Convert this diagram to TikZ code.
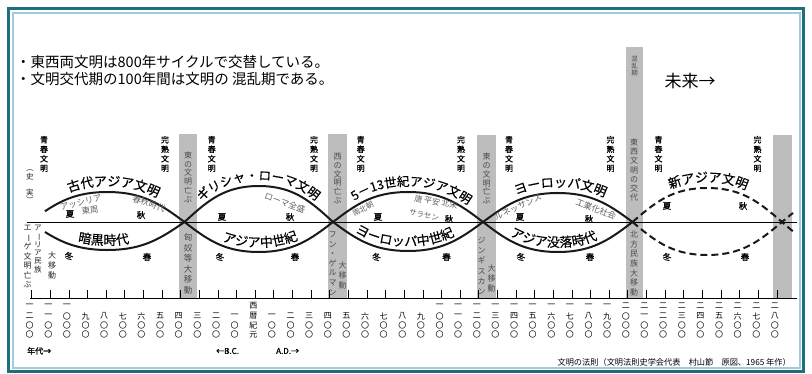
\documentclass[tikz,border=0pt]{standalone}
\usepackage{fontspec}
\usepackage{graphicx}
\usetikzlibrary{decorations.text}
\newfontfamily\jp{Noto Sans CJK JP}
\newfontfamily\jpb[FakeBold=1.2]{Noto Sans CJK JP}
\newfontfamily\jpm[FakeBold=0.4]{Noto Sans CJK JP}
\definecolor{frameDark}{HTML}{1F6E80}
\definecolor{frameLight}{HTML}{A3CBD6}
\definecolor{bandgray}{HTML}{BDBDBD}
\definecolor{bandtxt}{HTML}{4A4A4A}
\definecolor{smalltxt}{HTML}{606060}
\newcommand{\VLong}{\rotatebox[origin=c]{-90}{ー}}
\newcommand{\VOpen}{\rotatebox[origin=c]{-90}{（}}
\newcommand{\VClose}{\rotatebox[origin=c]{-90}{）}}
\newcommand{\labf}{\jpm\fontsize{13}{13}\selectfont}
\newcommand{\labfs}{\jpm\fontsize{12.5}{12.5}\selectfont}
\begin{document}
\begin{tikzpicture}[x=1pt,y=-1pt,
  declare function={wv(\t)=(sin(\t)+0.05*sin(3*\t))/0.95;},
  crv/.style={line width=2pt, black!90},
  dcrv/.style={line width=2pt, black!90, dash pattern=on 7pt off 4pt},
  vt/.style={align=center, inner sep=0pt, font=\jpb\fontsize{8}{9.5}\selectfont},
  bt/.style={align=center, inner sep=0pt, text=bandtxt, font=\jp\fontsize{8}{9}\selectfont},
  lt/.style={align=center, inner sep=0pt, text=black!85, font=\jp\fontsize{8}{9.5}\selectfont},
  sm/.style={inner sep=0pt, text=smalltxt, font=\jp\fontsize{8.5}{8.5}\selectfont},
  season/.style={inner sep=0pt, font=\jpb\fontsize{8.5}{8.5}\selectfont},
  num/.style={inner sep=0pt, font=\jp\fontsize{8}{8}\selectfont},
  foot/.style={inner sep=0pt, font=\jpb\fontsize{8}{8}\selectfont}]
\useasboundingbox (0,0) rectangle (812,373);
\fill[white] (0,0) rectangle (812,373);
% frame
\draw[frameDark, line width=3pt] (8.5,8.5) rectangle (803.5,371.5);
\draw[frameLight, line width=2pt] (12.5,12.5) rectangle (799.5,367.5);
% header text
\node[anchor=west, inner sep=0pt, font=\jp\fontsize{14.5}{14.5}\selectfont] (head1) at (16,62) {・東西両文明は800年サイクルで交替している。};
\node[anchor=west, inner sep=0pt, font=\jp\fontsize{14.5}{14.5}\selectfont] (head2) at (16,79.5) {・文明交代期の100年間は文明の 混乱期である。};
\node[inner sep=0pt, font=\jp\fontsize{17}{17}\selectfont] (mirai) at (690,81) {未来→};
% bands
\fill[bandgray] (179,134) rectangle (197,298);
\fill[bandgray] (328,134) rectangle (347,298);
\fill[bandgray] (477,135) rectangle (496,298);
\fill[bandgray] (626,47) rectangle (643,298);
\fill[bandgray] (773,135) rectangle (792,298);
% axis and time line
\draw[line width=0.8pt] (27,222) -- (797,222);
\draw[line width=0.9pt] (30,298) -- (797,298);
\foreach \k in {0,...,40}
  \draw[line width=0.8pt] ({31.7+18.63*\k},290) -- ({31.7+18.63*\k},298);
% curves
\draw[crv] plot[domain=45:184.5, samples=60] (\x,{222-30*wv(((\x-30)/154.5)*180)});
\draw[crv] plot[domain=45:184.5, samples=60] (\x,{222+28*wv(((\x-30)/154.5)*180)});
\draw[crv] plot[domain=184.5:333, samples=60] (\x,{222-36*wv(((\x-184.5)/148.5)*180)});
\draw[crv] plot[domain=184.5:333, samples=60] (\x,{222+30*wv(((\x-184.5)/148.5)*180)});
\draw[crv] plot[domain=333:483, samples=60] (\x,{222-30*wv(((\x-333)/150)*180)});
\draw[crv] plot[domain=333:483, samples=60] (\x,{222+29*wv(((\x-333)/150)*180)});
\draw[crv] plot[domain=483:632.5, samples=60] (\x,{222-29*wv(((\x-483)/149.5)*180)});
\draw[crv] plot[domain=483:632.5, samples=60] (\x,{222+30*wv(((\x-483)/149.5)*180)});
\draw[dcrv] plot[domain=632.5:793, samples=70] (\x,{222-34*wv(((\x-632.5)/149.5)*180)});
\draw[dcrv] plot[domain=632.5:793, samples=70] (\x,{222+33*wv(((\x-632.5)/149.5)*180)});
% curve labels
\path[decorate, decoration={text along path, text align=center, text={|\labf|古代アジア文明}}]
  plot[domain=45:180, samples=50] (\x,{222-30*wv(((\x-30)/154.5)*180)-6});
\path[decorate, decoration={text along path, text align=center, text={|\labf|暗黒時代}}]
  plot[domain=50:158, samples=50] (\x,{222+28*wv(((\x-30)/154.5)*180)-5});
\path[decorate, decoration={text along path, text align=center, text={|\labfs|ギリシャ・ローマ文明}}]
  plot[domain=186:331, samples=50] (\x,{222-36*wv(((\x-184.5)/148.5)*180)-6});
\path[decorate, decoration={text along path, text align=center, text={|\labf|アジア中世紀}}]
  plot[domain=205:315, samples=50] (\x,{222+30*wv(((\x-184.5)/148.5)*180)-5});
\path[decorate, decoration={text along path, text align=center, text={|\labfs|5－13世紀アジア文明}}]
  plot[domain=340:482, samples=50] (\x,{222-30*wv(((\x-333)/150)*180)-6});
\path[decorate, decoration={text along path, text align=center, text={|\labf|ヨーロッパ中世紀}}]
  plot[domain=345:465, samples=50] (\x,{222+29*wv(((\x-333)/150)*180)-5});
\path[decorate, decoration={text along path, text align=center, text={|\labf|ヨーロッパ文明}}]
  plot[domain=490:630, samples=50] (\x,{222-29*wv(((\x-483)/149.5)*180)-6});
\path[decorate, decoration={text along path, text align=center, text={|\labf|アジア没落時代}}]
  plot[domain=495:613, samples=50] (\x,{222+30*wv(((\x-483)/149.5)*180)-5});
\path[decorate, decoration={text along path, text align=center, text={|\labf|新アジア文明}}]
  plot[domain=640:776, samples=50] (\x,{222-34*wv(((\x-632.5)/149.5)*180)-6});
% small labels
\node[sm, rotate=15] (assyria) at (81,202.5) {アッシリア};
\node[sm, rotate=8] (toshu) at (90,210) {東周};
\node[sm, rotate=-18] (shunju) at (149,203.5) {春秋時代};
\node[sm, rotate=-20] (roma) at (285,203) {ローマ全盛};
\node[sm, rotate=27, font=\jp\fontsize{7.5}{7.5}\selectfont] (nanboku) at (363,209) {南北朝};
\node[sm, rotate=-10, font=\jp\fontsize{8}{8}\selectfont] (tang) at (436,202) {唐 平安 北宋};
\node[sm, rotate=-12, font=\jp\fontsize{7.5}{7.5}\selectfont] (saracen) at (424,215) {サラセン};
\node[sm, rotate=24] (renai) at (518,207) {ルネッサンス};
\node[sm, rotate=-22] (kogyo) at (596,209) {工業化社会};
% seasons
\node[season] (s1a) at (70,214) {夏};
\node[season] (s1b) at (141,215) {秋};
\node[season] (s1c) at (69,256) {冬};
\node[season] (s1d) at (147,257) {春};
\node[season] (s2a) at (222,217) {夏};
\node[season] (s2b) at (290,217) {秋};
\node[season] (s2c) at (220,257) {冬};
\node[season] (s2d) at (295,257) {春};
\node[season] (s3a) at (378,217) {夏};
\node[season] (s3b) at (449,219) {秋};
\node[season] (s3c) at (376.5,257) {冬};
\node[season] (s3d) at (446.5,257) {春};
\node[season] (s4a) at (520,217) {夏};
\node[season] (s4b) at (589,219) {秋};
\node[season] (s4c) at (521,257) {冬};
\node[season] (s4d) at (590,257) {春};
\node[season] (s5a) at (667,206) {夏};
\node[season] (s5b) at (743,206) {秋};
\node[season] (s5c) at (667,257) {冬};
\node[season] (s5d) at (745,257) {春};
% youth / mature labels
\node[vt] (y1) at (44,154) {青\\春\\文\\明};
\node[vt] (m1) at (165,154) {完\\熟\\文\\明};
\node[vt] (y2) at (211.7,154) {青\\春\\文\\明};
\node[vt] (m2) at (314,154) {完\\熟\\文\\明};
\node[vt] (y3) at (360.7,154) {青\\春\\文\\明};
\node[vt] (m3) at (461,154) {完\\熟\\文\\明};
\node[vt] (y4) at (509,154) {青\\春\\文\\明};
\node[vt] (m4) at (610.5,154) {完\\熟\\文\\明};
\node[vt] (y5) at (658.5,154) {青\\春\\文\\明};
\node[vt] (m5) at (757.5,154) {完\\熟\\文\\明};
\node[lt, font=\jp\fontsize{7.5}{8}\selectfont] (shijitsu) at (30,184.5) {\VOpen\\史\\　\\実\\\VClose};
% left texts
\node[lt, font=\jp\fontsize{8}{9.5}\selectfont] (aegean) at (27.5,256.5) {エ\\\VLong\\ゲ\\文\\明\\亡\\ぶ};
\node[lt, font=\jp\fontsize{7.5}{8.3}\selectfont] (arya) at (38,249) {ア\\\VLong\\リ\\ア\\民\\族};
\node[lt, font=\jp\fontsize{8}{10}\selectfont] (daiido0) at (52,265) {大\\移\\動};
% band texts
\node[bt, font=\jp\fontsize{8}{8.8}\selectfont] (b1t) at (188,177) {東\\の\\文\\明\\亡\\ぶ};
\node[bt, font=\jp\fontsize{8.5}{10.5}\selectfont] (b1b) at (188,264) {匈\\奴\\等\\大\\移\\動};
\node[bt, font=\jp\fontsize{8}{8.8}\selectfont] (b2t) at (337.5,178.5) {西\\の\\文\\明\\亡\\ぶ};
\node[bt, font=\jp\fontsize{8}{9.6}\selectfont] (b2b) at (332.7,263.5) {フ\\ン\\・\\ゲ\\ル\\マ\\ン};
\node[bt, font=\jp\fontsize{8}{10}\selectfont] (b2c) at (342.7,275) {大\\移\\動};
\node[bt, font=\jp\fontsize{8}{8.8}\selectfont] (b3t) at (486.5,178.5) {東\\の\\文\\明\\亡\\ぶ};
\node[bt, font=\jp\fontsize{8}{10.3}\selectfont] (b3b) at (481.7,266) {ジ\\ン\\ギ\\ス\\カ\\ン};
\node[bt, font=\jp\fontsize{8}{10}\selectfont] (b3c) at (491.7,278) {大\\移\\動};
\node[bt, font=\jp\fontsize{6.5}{7}\selectfont] (b4a) at (634.5,66) {混\\乱\\期};
\node[bt, font=\jp\fontsize{8}{9.2}\selectfont] (b4t) at (634,170) {東\\西\\文\\明\\の\\交\\代};
\node[bt, font=\jp\fontsize{8}{9.6}\selectfont] (b4b) at (634,263.5) {北\\方\\民\\族\\大\\移\\動};
% year columns
\foreach \k/\a/\b/\c/\d in {0/一/二/〇/〇,1/一/一/〇/〇,2/一/〇/〇/〇,3//九/〇/〇,4//八/〇/〇,5//七/〇/〇,6//六/〇/〇,7//五/〇/〇,8//四/〇/〇,9//三/〇/〇,10//二/〇/〇,11//一/〇/〇,12/西/暦/紀/元,13//一/〇/〇,14//二/〇/〇,15//三/〇/〇,16//四/〇/〇,17//五/〇/〇,18//六/〇/〇,19//七/〇/〇,20//八/〇/〇,21//九/〇/〇,22/一/〇/〇/〇,23/一/一/〇/〇,24/一/二/〇/〇,25/一/三/〇/〇,26/一/四/〇/〇,27/一/五/〇/〇,28/一/六/〇/〇,29/一/七/〇/〇,30/一/八/〇/〇,31/一/九/〇/〇,32/二/〇/〇/〇,33/二/一/〇/〇,34/二/二/〇/〇,35/二/三/〇/〇,36/二/四/〇/〇,37/二/五/〇/〇,38/二/六/〇/〇,39/二/七/〇/〇,40/二/八/〇/〇}{
  \node[num] (c\k a) at ({29.7+18.63*\k},306) {\a};
  \node[num] (c\k b) at ({29.7+18.63*\k},316) {\b};
  \node[num] (c\k c) at ({29.7+18.63*\k},325.5) {\c};
  \node[num] (c\k d) at ({29.7+18.63*\k},334.5) {\d};
}
% footer
\node[foot, anchor=west] (nendai) at (27,351) {年代→};
\node[foot, anchor=west] (bc) at (216,351) {←B.C.};
\node[foot, anchor=west] (ad) at (276,351) {A.D.→};
\node[inner sep=0pt, anchor=east, font=\jp\fontsize{8.2}{8.2}\selectfont] (credit) at (791,362) {文明の法則（文明法則史学会代表　村山節　原図、1965 年作）};
\end{tikzpicture}
\end{document}
